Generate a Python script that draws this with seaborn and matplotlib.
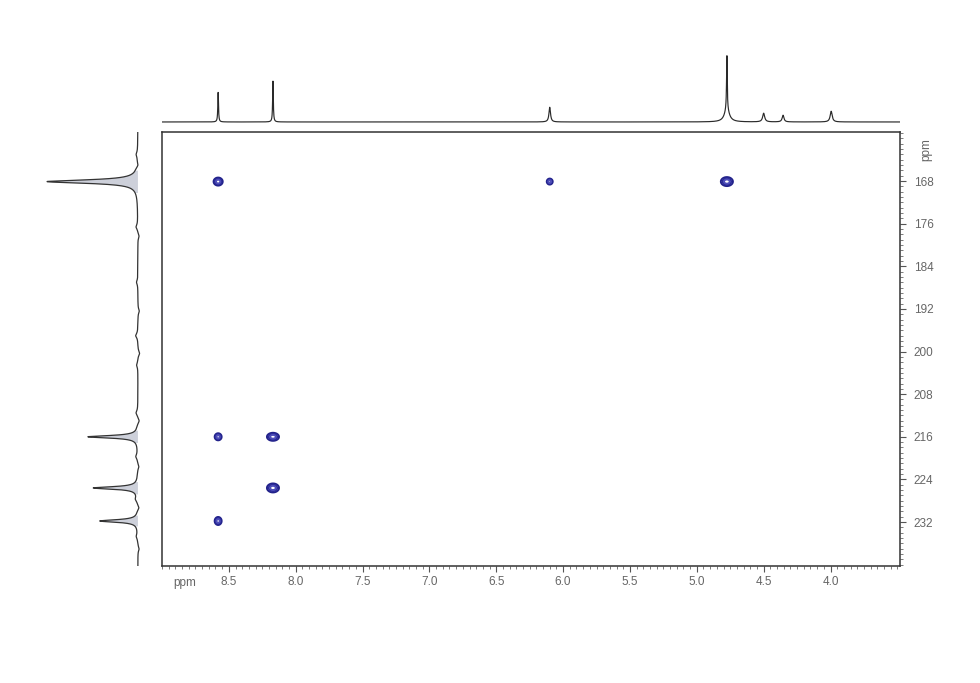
import numpy as np
import pandas as pd
import matplotlib
matplotlib.use("Agg")
import matplotlib.pyplot as plt
import seaborn as sns
from matplotlib.ticker import MultipleLocator

# 1H projection (top): shift (ppm), height (rel.), half width (ppm)
h_shift = [8.58, 8.17, 6.10, 4.775, 4.775, 4.50, 4.355, 3.995]
h_height = [45, 61, 22, 82, 18, 13, 10, 16]
h_width = [0.003, 0.003, 0.007, 0.003, 0.022, 0.009, 0.008, 0.009]

# 13C projection (left): shift (ppm), height (rel.), half width (ppm)
c_shift = [168.1, 216.0, 225.6, 231.8]
c_height = [100, 55, 49, 42]
c_width = [0.38, 0.28, 0.28, 0.28]

# small baseline wiggles of the left trace
c_noise_shift = [163.0, 165.0, 176.6, 178.3, 187.0, 192.4, 197.0, 200.3,
                 202.5, 211.5, 213.0, 219.7, 221.6, 227.7, 229.3, 234.7, 237.0]
c_noise_amp = [1.5, -1.5, 2.0, -1.5, 1.5, -1.5, 2.5, -2.0,
               1.5, 2.0, -2.0, 2.0, -1.5, 2.0, -2.0, 1.5, -1.5]

# cross peaks: 1H shift, 13C shift, half size of spot in x / y (ppm)
xp_h = [8.58, 6.10, 4.775, 8.58, 8.17, 8.17, 8.58]
xp_c = [168.1, 168.1, 168.1, 216.0, 216.0, 225.6, 231.8]
xp_wx = [0.034, 0.022, 0.045, 0.026, 0.045, 0.045, 0.026]
xp_wy = [0.75, 0.56, 0.84, 0.66, 0.75, 0.84, 0.75]

x_ticks = [8.5, 8.0, 7.5, 7.0, 6.5, 6.0, 5.5, 5.0, 4.5, 4.0]
y_ticks = [168, 176, 184, 192, 200, 208, 216, 224, 232]

xlim = (9.0, 3.48)
ylim = (240.25, 158.8)

sns.set_theme(style="white")
plt.rcParams['font.family'] = ['Liberation Sans Narrow', 'Liberation Sans', 'DejaVu Sans']


def lorentz(axis, pos, height, width):
    out = np.zeros_like(axis)
    for p, h, w in zip(pos, height, width):
        out += h * w**2 / ((axis - p)**2 + w**2)
    return out


h_axis = np.linspace(xlim[0], xlim[1], 6000)
h_proj = lorentz(h_axis, h_shift, h_height, h_width)
df_h = pd.DataFrame({"ppm": h_axis, "I": h_proj})

c_axis = np.linspace(ylim[1] - 0.3, ylim[0] + 0.2, 3000)
c_proj = lorentz(c_axis, c_shift, c_height, c_width)
c_proj += lorentz(c_axis, c_noise_shift, c_noise_amp, [0.5] * len(c_noise_shift))
df_c = pd.DataFrame({"ppm": c_axis, "I": c_proj})

fig = plt.figure(figsize=(9.8, 6.83), dpi=100)
ax = fig.add_axes([0.1653, 0.1713, 0.7531, 0.6354])
ax_top = fig.add_axes([0.1653, 0.8126, 0.7531, 0.1215])
ax_left = fig.add_axes([0.0408, 0.1713, 0.1122, 0.6354])

# top 1H trace
sns.lineplot(data=df_h, x="ppm", y="I", ax=ax_top, color="#2a2a2a",
             linewidth=0.85, estimator=None, sort=False)
ax_top.set_xlim(*xlim)
ax_top.set_ylim(-9, 115)
ax_top.axis("off")

# left 13C trace
sns.lineplot(data=df_c, x="I", y="ppm", ax=ax_left, color="#333333",
             linewidth=0.9, estimator=None, sort=False, orient="y")
ax_left.fill_betweenx(c_axis, 0, c_proj, where=c_proj > 3, color="#cdd0da", linewidth=0)
ax_left.set_xlim(107.7, -13.2)
ax_left.set_ylim(*ylim)
ax_left.axis("off")

# cross peaks as contours
gx = np.linspace(xlim[0], xlim[1], 1400)
gy = np.linspace(ylim[1], ylim[0], 1000)
X, Y = np.meshgrid(gx, gy)
Z = np.zeros_like(X)
k = np.sqrt(2 * np.log(5))
for px, py, wx, wy in zip(xp_h, xp_c, xp_wx, xp_wy):
    sx, sy = wx / k, wy / k
    Z += np.exp(-((X - px)**2 / (2 * sx**2) + (Y - py)**2 / (2 * sy**2)))
ax.contour(X, Y, Z, levels=[0.2, 0.45, 0.7], colors=["#22228a", "#2a2a98", "#4d4db8"],
           linewidths=1.4)

ax.set_xlim(*xlim)
ax.set_ylim(*ylim)
for s in ax.spines.values():
    s.set_color("#333333")
    s.set_linewidth(1.1)

ax.set_xticks(x_ticks)
ax.set_xticklabels([f"{v:.1f}" for v in x_ticks])
ax.xaxis.set_minor_locator(MultipleLocator(0.05))
ax.set_yticks(y_ticks)
ax.set_yticklabels([str(v) for v in y_ticks])
ax.yaxis.set_minor_locator(MultipleLocator(1))
ax.yaxis.tick_right()
ax.tick_params(axis="both", which="major", direction="out", length=4, width=0.8,
               color="#555555", labelcolor="#666666", labelsize=8.5)
ax.tick_params(axis="x", which="major", bottom=True, pad=3)
ax.tick_params(axis="y", which="major", right=True, left=False, pad=6)
ax.tick_params(axis="x", which="minor", bottom=True, direction="out", length=2, width=0.6, color="#666666")
ax.tick_params(axis="y", which="minor", right=True, left=False, direction="out", length=2, width=0.6, color="#666666")
ax.set_xlabel("")
ax.set_ylabel("")

ax.text(0.015, -0.025, "ppm", transform=ax.transAxes, ha="left", va="top",
        fontsize=8.5, color="#666666")
ax.text(1.035, 0.985, "ppm", transform=ax.transAxes, ha="center", va="top",
        rotation=90, fontsize=8.5, color="#666666")

fig.savefig("out.png", dpi=100)
